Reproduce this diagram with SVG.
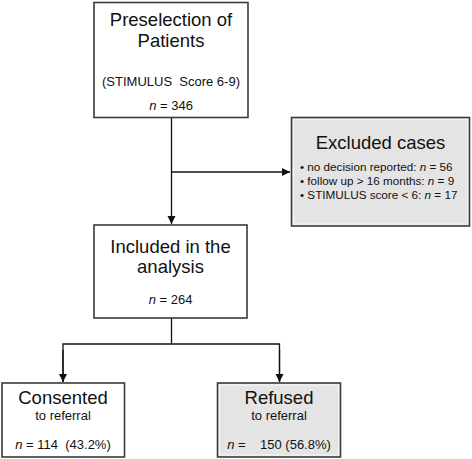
<svg xmlns="http://www.w3.org/2000/svg" width="472" height="459" viewBox="0 0 472 459">
<style>
text{font-family:"Liberation Sans",Arial,sans-serif;fill:#111;}
.t{font-size:18.5px;text-anchor:middle;}
.s{font-size:13px;text-anchor:middle;}
.b{font-size:11.7px;}
.box{fill:#fff;stroke:#3a3a3a;stroke-width:1.6;}
.gbox{fill:#e4e4e4;stroke:#3a3a3a;stroke-width:1.6;}
.inner{fill:none;stroke:#f6f6f6;stroke-width:1;}
.c{fill:none;stroke:#111;stroke-width:1.3;}
</style>
<defs>
<marker id="ah" markerUnits="userSpaceOnUse" markerWidth="9" markerHeight="9" refX="8" refY="4" orient="auto">
<path d="M0,0 L8,4 L0,8 z" fill="#111"/>
</marker>
</defs>
<rect width="472" height="459" fill="#fff"/>
<g id="connectors">
<line class="c" x1="171.5" y1="117" x2="171.5" y2="224" marker-end="url(#ah)"/>
<line class="c" x1="171.5" y1="172" x2="290" y2="172" marker-end="url(#ah)"/>
<line class="c" x1="171.5" y1="318" x2="171.5" y2="344"/>
<polyline class="c" points="63,382 63,344 279.5,344 279.5,382"/>
<line class="c" x1="63" y1="350" x2="63" y2="382" marker-end="url(#ah)"/>
<line class="c" x1="279.5" y1="350" x2="279.5" y2="382" marker-end="url(#ah)"/>
</g>
<g id="preselection">
<rect class="box" x="94" y="2.5" width="154" height="115"/>
<text class="t" x="171" y="26">Preselection of</text>
<text class="t" x="171" y="47">Patients</text>
<text class="s" x="171" y="86" xml:space="preserve">(STIMULUS  Score 6-9)</text>
<text class="s" x="171" y="110"><tspan font-style="italic">n</tspan> = 346</text>
</g>
<g id="excluded">
<rect class="gbox" x="291.5" y="117.5" width="178" height="108.5"/>
<rect class="inner" x="293.5" y="119.5" width="174" height="104.5"/>
<text class="t" x="380.5" y="149">Excluded cases</text>
<text class="b" x="300" y="170.5">• no decision reported: <tspan font-style="italic">n</tspan> = 56</text>
<text class="b" x="300" y="184.5">• follow up &gt; 16 months: <tspan font-style="italic">n</tspan> = 9</text>
<text class="b" x="300" y="199" xml:space="preserve">• STIMULUS score &lt; 6: <tspan font-style="italic">n</tspan> = 17</text>
</g>
<g id="included">
<rect class="box" x="94" y="225" width="153" height="93"/>
<text class="t" x="170.5" y="253">Included in the</text>
<text class="t" x="170.5" y="273">analysis</text>
<text class="s" x="170.5" y="304"><tspan font-style="italic">n</tspan> = 264</text>
</g>
<g id="consented">
<rect class="box" x="2" y="383" width="122.5" height="74"/>
<text class="t" x="63" y="403.5">Consented</text>
<text class="s" x="63" y="420">to referral</text>
<text class="s" x="63" y="449" xml:space="preserve"><tspan font-style="italic">n</tspan> = 114  (43.2%)</text>
</g>
<g id="refused">
<rect class="gbox" x="217.5" y="383" width="123" height="74"/>
<rect class="inner" x="219.5" y="385" width="119" height="70"/>
<text class="t" x="279" y="403.5">Refused</text>
<text class="s" x="279" y="420">to referral</text>
<text class="s" x="279" y="449" xml:space="preserve"><tspan font-style="italic">n</tspan> =    150 (56.8%)</text>
</g>
</svg>
